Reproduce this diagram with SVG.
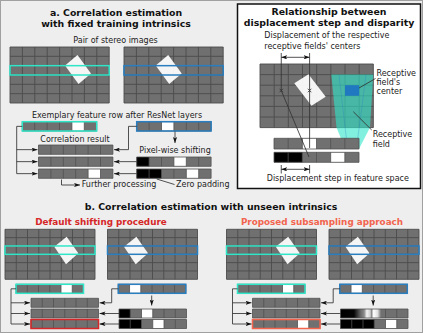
<svg xmlns="http://www.w3.org/2000/svg" xmlns:xlink="http://www.w3.org/1999/xlink" width="423" height="333" viewBox="0 0 423 333">
<defs>
<style>
.bg{fill:#eeeeee;stroke:#a0a0a0;stroke-width:1}
.cell{fill:#707070}
.gl{fill:none;stroke:#4c4c4c;stroke-width:0.9}
.sep{fill:none;stroke:#505050;stroke-width:0.8}
.wh{fill:#ffffff}
.shape{fill:#ffffff;fill-opacity:0.93}
.bk{fill:#000000}
.cy{fill:none;stroke:#30e6c8;stroke-width:1.5}
.bl{fill:none;stroke:#2a7fc0;stroke-width:1.5}
.rd{fill:none;stroke:#d62728;stroke-width:1.5}
.og{fill:none;stroke:#f2644e;stroke-width:1.5}
.cn{fill:none;stroke:#333333;stroke-width:0.85}
.t{font-family:"DejaVu Sans",sans-serif;font-weight:bold;font-size:9.4px;text-anchor:middle;fill:#111111}
.st{font-family:"DejaVu Sans",sans-serif;font-weight:bold;font-size:8.8px;text-anchor:middle}
.s{font-family:"DejaVu Sans",sans-serif;font-size:8px;fill:#222222}
.m{text-anchor:middle}
</style>
<marker id="ah" viewBox="0 0 10 7" refX="10" refY="3.5" markerWidth="6" markerHeight="4.2" markerUnits="userSpaceOnUse" orient="auto-start-reverse"><path d="M0,0 L10,3.5 L0,7 L2.5,3.5 Z" fill="#111111"/></marker>
<linearGradient id="sub" x1="0" x2="1" y1="0" y2="0">
<stop offset="0" stop-color="#000000"/><stop offset="0.2" stop-color="#060606"/><stop offset="0.3" stop-color="#6a6a6a"/><stop offset="0.35" stop-color="#8a8a8a"/><stop offset="0.39" stop-color="#f4f4f4"/><stop offset="0.44" stop-color="#d0d0d0"/><stop offset="0.46" stop-color="#8a8a8a"/><stop offset="0.49" stop-color="#ffffff"/><stop offset="0.55" stop-color="#e0e0e0"/><stop offset="0.6" stop-color="#707070"/><stop offset="1" stop-color="#707070"/>
</linearGradient>
<g id="gA"><rect class="cell" width="99.2" height="56"/><path class="gl" d="M0,0H99.2V56H0Z M12.4,0V56 M24.8,0V56 M37.2,0V56 M49.6,0V56 M62,0V56 M74.4,0V56 M86.8,0V56 M0,9.333H99.2 M0,18.667H99.2 M0,28H99.2 M0,37.333H99.2 M0,46.667H99.2"/></g>
<g id="gB"><rect class="cell" width="90" height="50"/><path class="gl" d="M0,0H90V50H0Z M11.25,0V50 M22.5,0V50 M33.75,0V50 M45,0V50 M56.25,0V50 M67.5,0V50 M78.75,0V50 M0,8.333H90 M0,16.667H90 M0,25H90 M0,33.333H90 M0,41.667H90"/></g>
<path id="sA" class="sep" d="M0,0H74.4V9.3H0Z M12.4,0V9.3 M24.8,0V9.3 M37.2,0V9.3 M49.6,0V9.3 M62,0V9.3"/>
<path id="sB" class="sep" d="M0,0H67.5V9H0Z M11.25,0V9 M22.5,0V9 M33.75,0V9 M45,0V9 M56.25,0V9"/>
</defs>

<rect class="bg" x="0.5" y="0.5" width="422" height="332"/>

<g id="panel-a">
<text class="t" x="116" y="15.7">a. Correlation estimation</text>
<text class="t" x="116" y="27">with fixed training intrinsics</text>
<text class="s m" x="115.5" y="43.3">Pair of stereo images</text>
<g id="a-left-image">
<use xlink:href="#gA" x="10" y="47"/>
<polygon class="shape" points="65,65.5 77.5,55 91,73.5 78.5,84"/>
<rect class="cy" x="10" y="65.67" width="99.2" height="9.33"/>
</g>
<g id="a-right-image">
<use xlink:href="#gA" x="124" y="47"/>
<polygon class="shape" points="155.7,65.5 168.2,55 181.7,73.5 169.2,84"/>
<rect class="bl" x="124" y="65.67" width="99.2" height="9.33"/>
</g>
<text class="s m" x="117" y="118.3">Exemplary feature row after ResNet layers</text>
<g id="a-left-feature">
<rect class="cell" x="22.3" y="121.7" width="74.4" height="9.3"/>
<rect class="wh" x="71.9" y="121.7" width="12.4" height="9.3"/>
<use xlink:href="#sA" x="22.3" y="121.7"/>
<rect class="cy" x="22.3" y="121.7" width="74.4" height="9.3"/>
</g>
<g id="a-right-feature">
<rect class="cell" x="136.7" y="121.7" width="74.4" height="9.3"/>
<rect class="wh" x="161.5" y="121.7" width="12.4" height="9.3"/>
<use xlink:href="#sA" x="136.7" y="121.7"/>
<rect class="bl" x="136.7" y="121.7" width="74.4" height="9.3"/>
</g>
<text class="s m" x="75" y="141.7">Correlation result</text>
<g id="a-corr">
<rect class="cell" x="38.5" y="145" width="74.4" height="9.3"/>
<use xlink:href="#sA" x="38.5" y="145"/>
<rect class="cell" x="38.5" y="157" width="74.4" height="9.3"/>
<use xlink:href="#sA" x="38.5" y="157"/>
<rect class="cell" x="38.5" y="169" width="74.4" height="9.3"/>
<rect class="wh" x="88.1" y="169" width="12.4" height="9.3"/>
<use xlink:href="#sA" x="38.5" y="169"/>
</g>
<text class="s m" x="175" y="153.3">Pixel-wise shifting</text>
<g id="a-shifted">
<rect class="cell" x="136.7" y="157" width="74.4" height="9.3"/>
<rect class="bk" x="136.7" y="157" width="12.4" height="9.3"/>
<rect class="wh" x="173.9" y="157" width="12.4" height="9.3"/>
<use xlink:href="#sA" x="136.7" y="157"/>
<rect class="cell" x="136.7" y="169" width="74.4" height="9.3"/>
<rect class="bk" x="136.7" y="169" width="24.8" height="9.3"/>
<rect class="wh" x="186.3" y="169" width="12.4" height="9.3"/>
<use xlink:href="#sA" x="136.7" y="169"/>
</g>
<text class="s" x="81.7" y="187">Further processing</text>
<text class="s" x="176" y="187">Zero padding</text>
</g>

<g id="panel-box">
<rect x="237.5" y="4" width="183" height="184.5" fill="#ffffff" stroke="#111111" stroke-width="1.5"/>
<text class="t" x="329" y="15">Relationship between</text>
<text class="t" x="329" y="26">displacement step and disparity</text>
<text class="s" x="264.3" y="38.3">Displacement of the respective</text>
<text class="s" x="264.3" y="49">receptive fields' centers</text>
<g id="box-image">
<rect class="cell" x="260" y="64" width="113.33" height="63.6"/>
<path class="gl" d="M260,64H373.33V127.6H260Z M274.17,64V127.6 M288.33,64V127.6 M302.5,64V127.6 M316.67,64V127.6 M330.83,64V127.6 M345,64V127.6 M359.17,64V127.6 M260,74.6H373.33 M260,85.2H373.33 M260,95.8H373.33 M260,106.4H373.33 M260,117H373.33"/>
<polygon class="shape" points="294.3,83.3 308.5,74.3 325.7,96.7 311.5,105.7"/>
<polygon points="331.3,74.6 373.3,74.6 370,127.6 359.2,148.5 345,148.5 336.5,127.6" fill="#2ee6c8" fill-opacity="0.6"/>
<path d="M339,75 L347.5,148 M366,75 L356.5,148" stroke="#2a7fc0" stroke-opacity="0.45" stroke-width="0.7" fill="none"/>
<rect x="345" y="85.2" width="14.17" height="10.6" fill="#1f78c0"/>
</g>
<g id="box-features">
<rect class="cell" x="274" y="138.3" width="85" height="10.7"/>
<rect class="wh" x="302.33" y="138.3" width="14.17" height="10.7"/>
<path class="sep" d="M274,138.3H359V149H274Z M288.17,138.3V149 M302.33,138.3V149 M316.5,138.3V149 M330.67,138.3V149 M344.83,138.3V149"/>
<rect class="cell" x="274" y="152.3" width="85" height="10"/>
<rect class="bk" x="274" y="152.3" width="28.33" height="10"/>
<rect class="wh" x="330.67" y="152.3" width="14.17" height="10"/>
<path class="sep" d="M274,152.3H359V162.3H274Z M288.17,152.3V162.3 M302.33,152.3V162.3 M316.5,152.3V162.3 M330.67,152.3V162.3 M344.83,152.3V162.3"/>
</g>
<text class="s" x="376.5" y="75.7">Receptive</text>
<text class="s" x="376.5" y="85">field's</text>
<text class="s" x="376.5" y="94.3">center</text>
<text class="s" x="372.7" y="137.3">Receptive</text>
<text class="s" x="372.7" y="147.3">field</text>
<text class="s m" x="337.8" y="181">Displacement step in feature space</text>
</g>

<g id="panel-b">
<text class="t" x="211" y="210">b. Correlation estimation with unseen intrinsics</text>
<text class="st" x="101" y="225" fill="#d62728">Default shifting procedure</text>
<text class="st" x="322" y="225" fill="#f2644e">Proposed subsampling approach</text>
<g id="b-default">
<use xlink:href="#gB" x="5" y="229.3"/>
<polygon class="shape" points="54.3,246.7 66.7,236.7 78.3,253.3 66,264.3"/>
<rect class="cy" x="5" y="245.97" width="90" height="8.33"/>
<use xlink:href="#gB" x="107.5" y="229.3"/>
<polygon class="shape" points="124,246.7 136.4,236.7 148,253.3 135.7,264.3"/>
<rect class="bl" x="107.5" y="245.97" width="90" height="8.33"/>
<rect class="cell" x="16" y="284.3" width="67.5" height="9"/>
<rect class="wh" x="61" y="284.3" width="11.25" height="9"/>
<use xlink:href="#sB" x="16" y="284.3"/>
<rect class="cy" x="16" y="284.3" width="67.5" height="9"/>
<rect class="cell" x="118.3" y="284.3" width="67.5" height="9"/>
<rect class="wh" x="129.55" y="284.3" width="11.25" height="9"/>
<use xlink:href="#sB" x="118.3" y="284.3"/>
<rect class="bl" x="118.3" y="284.3" width="67.5" height="9"/>
<rect class="cell" x="31" y="298.3" width="67.5" height="9"/>
<use xlink:href="#sB" x="31" y="298.3"/>
<rect class="cell" x="31" y="309" width="67.5" height="9"/>
<use xlink:href="#sB" x="31" y="309"/>
<rect class="cell" x="31" y="319.5" width="67.5" height="9"/>
<use xlink:href="#sB" x="31" y="319.5"/>
<rect class="rd" x="31" y="319.5" width="67.5" height="9"/>
<rect class="cell" x="119" y="309" width="67.5" height="9"/>
<rect class="bk" x="119" y="309" width="11.25" height="9"/>
<rect class="wh" x="141.5" y="309" width="11.25" height="9"/>
<use xlink:href="#sB" x="119" y="309"/>
<rect class="cell" x="119" y="319.5" width="67.5" height="9"/>
<rect class="bk" x="119" y="319.5" width="22.5" height="9"/>
<rect class="wh" x="152.75" y="319.5" width="11.25" height="9"/>
<use xlink:href="#sB" x="119" y="319.5"/>
</g>
<g id="b-proposed" transform="translate(221.5,0)">
<use xlink:href="#gB" x="5" y="229.3"/>
<polygon class="shape" points="54.3,246.7 66.7,236.7 78.3,253.3 66,264.3"/>
<rect class="cy" x="5" y="245.97" width="90" height="8.33"/>
<use xlink:href="#gB" x="107.5" y="229.3"/>
<polygon class="shape" points="124,246.7 136.4,236.7 148,253.3 135.7,264.3"/>
<rect class="bl" x="107.5" y="245.97" width="90" height="8.33"/>
<rect class="cell" x="16" y="284.3" width="67.5" height="9"/>
<rect class="wh" x="61" y="284.3" width="11.25" height="9"/>
<use xlink:href="#sB" x="16" y="284.3"/>
<rect class="cy" x="16" y="284.3" width="67.5" height="9"/>
<rect class="cell" x="118.3" y="284.3" width="67.5" height="9"/>
<rect class="wh" x="129.55" y="284.3" width="11.25" height="9"/>
<use xlink:href="#sB" x="118.3" y="284.3"/>
<rect class="bl" x="118.3" y="284.3" width="67.5" height="9"/>
<rect class="cell" x="31" y="298.3" width="67.5" height="9"/>
<use xlink:href="#sB" x="31" y="298.3"/>
<rect class="cell" x="31" y="309" width="67.5" height="9"/>
<use xlink:href="#sB" x="31" y="309"/>
<rect class="cell" x="31" y="319.5" width="67.5" height="9"/>
<rect class="wh" x="76" y="319.5" width="11.25" height="9"/>
<use xlink:href="#sB" x="31" y="319.5"/>
<rect class="og" x="31" y="319.5" width="67.5" height="9"/>
<rect x="119" y="309" width="67.5" height="9" fill="url(#sub)"/>
<path class="sep" d="M119,309H186.5V318H119Z M164,309V318 M175.25,309V318"/>
<rect class="cell" x="119" y="319.5" width="67.5" height="9"/>
<rect class="bk" x="119" y="319.5" width="33.75" height="9"/>
<rect class="wh" x="164" y="319.5" width="11.25" height="9"/>
<use xlink:href="#sB" x="119" y="319.5"/>
</g>
</g>

<g id="connectors">
<path class="cn" d="M22.3,126.35H16.7V173.65"/>
<path class="cn" marker-end="url(#ah)" d="M16.7,149.65H37.5"/>
<path class="cn" marker-end="url(#ah)" d="M16.7,161.65H37.5"/>
<path class="cn" marker-end="url(#ah)" d="M16.7,173.65H37.5"/>
<path class="cn" marker-end="url(#ah)" d="M136.7,126.35H128.5V149.65H114"/>
<path class="cn" marker-end="url(#ah)" d="M136.7,161.65H114"/>
<path class="cn" marker-end="url(#ah)" d="M136.7,173.65H114"/>
<path class="cn" marker-end="url(#ah)" d="M175,131.5V143"/>
<path class="cn" marker-end="url(#ah)" d="M61.5,179.5V185H80"/>
<path class="cn" d="M156.7,179 L174.5,184.5"/>
<path class="cn" d="M281.25,53V90.5 M309.6,53V148 M281.25,90.5L309,157"/>
<path class="cn" marker-start="url(#ah)" marker-end="url(#ah)" d="M281.25,57.3H309.6"/>
<path class="cn" d="M281.25,165V173.5 M309.6,165V173.5"/>
<path class="cn" marker-start="url(#ah)" marker-end="url(#ah)" d="M281.25,169.3H309.6"/>
<path class="cn" stroke="#222222" stroke-width="1" d="M279.5,88.75l3.5,3.5m0,-3.5l-3.5,3.5 M307.85,88.75l3.5,3.5m0,-3.5l-3.5,3.5"/>
<path class="cn" d="M359,88 L375.5,78.5 M353.3,111.7 L371.7,130"/>
<path class="cn" d="M16,288.8H11V324"/>
<path class="cn" marker-end="url(#ah)" d="M11,302.8H30"/>
<path class="cn" marker-end="url(#ah)" d="M11,313.5H30"/>
<path class="cn" marker-end="url(#ah)" d="M11,324H30"/>
<path class="cn" marker-end="url(#ah)" d="M118.3,288.8H111.7V302.8H99.5"/>
<path class="cn" marker-end="url(#ah)" d="M119,313.5H99.5"/>
<path class="cn" marker-end="url(#ah)" d="M119,324H99.5"/>
<path class="cn" marker-end="url(#ah)" d="M151.7,295.5V305.5"/>
<g transform="translate(221.5,0)">
<path class="cn" d="M16,288.8H11V324"/>
<path class="cn" marker-end="url(#ah)" d="M11,302.8H30"/>
<path class="cn" marker-end="url(#ah)" d="M11,313.5H30"/>
<path class="cn" marker-end="url(#ah)" d="M11,324H30"/>
<path class="cn" marker-end="url(#ah)" d="M118.3,288.8H111.7V302.8H99.5"/>
<path class="cn" marker-end="url(#ah)" d="M119,313.5H99.5"/>
<path class="cn" marker-end="url(#ah)" d="M119,324H99.5"/>
<path class="cn" marker-end="url(#ah)" d="M151.7,295.5V305.5"/>
</g>
</g>
</svg>
